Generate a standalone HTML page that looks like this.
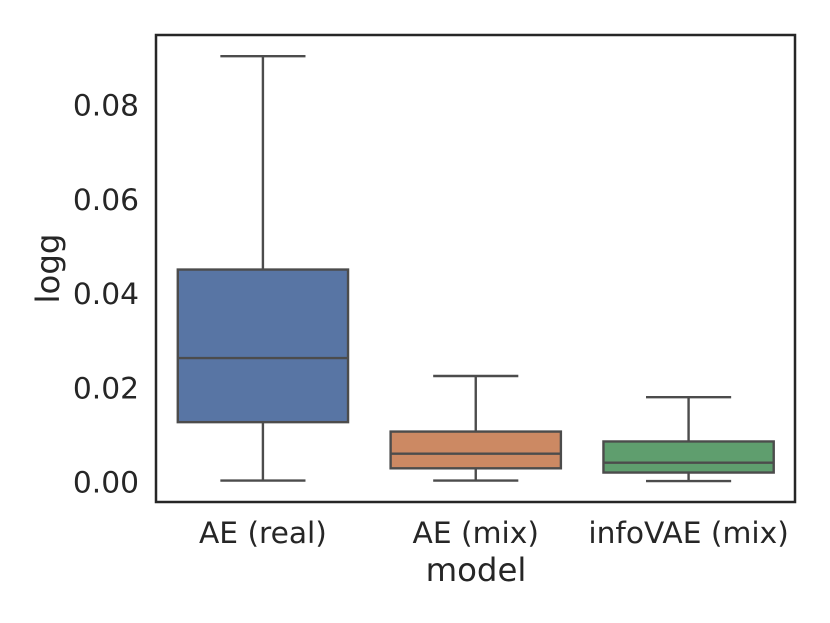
<!DOCTYPE html>
<html lang="en">
<head>
<meta charset="utf-8">
<title>logg by model</title>
<style>
html,body{margin:0;padding:0;background:#fff;width:830px;height:623px;overflow:hidden}
svg{display:block}
text{font-family:"DejaVu Sans","Liberation Sans",sans-serif;fill:#262626}
</style>
</head>
<body>
<svg id="chart" xmlns="http://www.w3.org/2000/svg" width="830" height="623" viewBox="0 0 830 623">
  <rect x="0" y="0" width="830" height="623" fill="#ffffff"/>
  <g id="marks"></g>
  <g id="yticks"></g>
  <g id="xticks"></g>
  <rect x="156" y="35" width="639" height="467" fill="none" stroke="#262626" stroke-width="2.5"/>
  <text x="476" y="581" font-size="32.4" text-anchor="middle">model</text>
  <text transform="translate(59 268.5) rotate(-90)" font-size="32.4" text-anchor="middle">logg</text>
</svg>
<script>
const categories = ['AE (real)', 'AE (mix)', 'infoVAE (mix)'];
const whiskerLow = [0.0002, 0.0002, 0.0001];
const quartile1 = [0.0126, 0.0028, 0.0019];
const medians = [0.0262, 0.0059, 0.0040];
const quartile3 = [0.0450, 0.0106, 0.0085];
const whiskerHigh = [0.0903, 0.0224, 0.0179];
const boxColors = ['#5875a4', '#cc8963', '#5f9e6e'];
const yTickValues = [0, 0.02, 0.04, 0.06, 0.08];
const yTickLabels = ['0.00', '0.02', '0.04', '0.06', '0.08'];

const NS = 'http://www.w3.org/2000/svg';
const plotLeft = 156.5, plotRight = 795;
const yZeroPx = 481.5, pxPerUnit = 4710;
const edgeColor = '#4c4c4c', edgeWidth = 2.4;
const xScale = i => plotLeft + (i + 0.5) * (plotRight - plotLeft) / categories.length;
const bandWidth = (plotRight - plotLeft) / categories.length;
const yScale = v => yZeroPx - v * pxPerUnit;

const marks = document.getElementById('marks');
const yticks = document.getElementById('yticks');
const xticks = document.getElementById('xticks');

function line(parent, x1, y1, x2, y2) {
  const el = document.createElementNS(NS, 'line');
  el.setAttribute('x1', x1);
  el.setAttribute('y1', y1);
  el.setAttribute('x2', x2);
  el.setAttribute('y2', y2);
  el.setAttribute('stroke', edgeColor);
  el.setAttribute('stroke-width', edgeWidth);
  parent.appendChild(el);
  return el;
}

categories.forEach((cat, i) => {
  const cx = xScale(i);
  const boxHalf = bandWidth * 0.4;
  const capHalf = bandWidth * 0.2;

  const group = document.createElementNS(NS, 'g');
  
  
  marks.appendChild(group);

  const upper = line(group, cx, yScale(quartile3[i]), cx, yScale(whiskerHigh[i]));
  
  

  const lower = line(group, cx, yScale(quartile1[i]), cx, yScale(whiskerLow[i]));
  
  

  const capHigh = line(group, cx - capHalf, yScale(whiskerHigh[i]), cx + capHalf, yScale(whiskerHigh[i]));
  
  

  const capLow = line(group, cx - capHalf, yScale(whiskerLow[i]), cx + capHalf, yScale(whiskerLow[i]));
  
  

  const box = document.createElementNS(NS, 'rect');
  box.setAttribute('x', cx - boxHalf);
  box.setAttribute('y', yScale(quartile3[i]));
  box.setAttribute('width', boxHalf * 2);
  box.setAttribute('height', yScale(quartile1[i]) - yScale(quartile3[i]));
  box.setAttribute('fill', boxColors[i]);
  box.setAttribute('stroke', edgeColor);
  box.setAttribute('stroke-width', edgeWidth);
  
  
  group.appendChild(box);

  const med = line(group, cx - boxHalf, yScale(medians[i]), cx + boxHalf, yScale(medians[i]));
  
  

  const label = document.createElementNS(NS, 'text');
  label.setAttribute('x', cx);
  label.setAttribute('y', 543);
  label.setAttribute('font-size', '29.7');
  label.setAttribute('text-anchor', 'middle');
  
  
  label.textContent = cat;
  xticks.appendChild(label);
});

yTickValues.forEach((v, i) => {
  const label = document.createElementNS(NS, 'text');
  label.setAttribute('x', 139);
  label.setAttribute('y', yScale(v) + 11);
  label.setAttribute('font-size', '29.7');
  label.setAttribute('text-anchor', 'end');
  
  
  label.textContent = yTickLabels[i];
  yticks.appendChild(label);
});
</script>
</body>
</html>
